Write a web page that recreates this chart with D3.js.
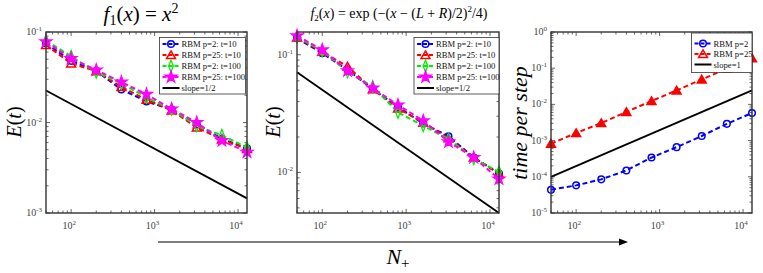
<!DOCTYPE html>
<html>
<head>
<meta charset="utf-8">
<script src="https://cdn.jsdelivr.net/npm/d3@7"></script>
<style>
  body { margin: 0; background: #fff; }
  svg { display: block; }
</style>
</head>
<body>
<div id="graph"></div>
<script>
// data
var N = [50, 100, 200, 400, 800, 1600, 3200, 6400, 12800];

// f1(x) = x^2
var f1_p2_t10   = [0.075, 0.048, 0.037, 0.0232, 0.0171, 0.0139, 0.0095, 0.0066, 0.0052];
var f1_p25_t10  = [0.072, 0.045, 0.037, 0.0247, 0.0179, 0.0136, 0.0088, 0.0065, 0.0051];
var f1_p2_t100  = [0.080, 0.054, 0.036, 0.027, 0.019, 0.0140, 0.0092, 0.0072, 0.0053];
var f1_p25_t100 = [0.078, 0.051, 0.038, 0.028, 0.0205, 0.0141, 0.0100, 0.0063, 0.0047];
var f1_slope    = [0.0226, 0.00145];

// f2(x) = exp(...)
var f2_p2_t10   = [0.138, 0.103, 0.0745, 0.051, 0.036, 0.026, 0.0203, 0.0134, 0.0098];
var f2_p25_t10  = [0.140, 0.106, 0.0796, 0.051, 0.035, 0.0265, 0.0195, 0.0134, 0.0097];
var f2_p2_t100  = [0.142, 0.108, 0.0717, 0.0535, 0.0324, 0.0249, 0.0192, 0.0131, 0.0101];
var f2_p25_t100 = [0.145, 0.110, 0.073, 0.052, 0.0374, 0.0275, 0.0182, 0.0134, 0.0088];
var f2_slope    = [0.0709, 0.00452];

// time per step
var time_p2   = [4.4e-5, 5.8e-5, 8.5e-5, 1.5e-4, 3.4e-4, 6.6e-4, 1.34e-3, 2.9e-3, 5.8e-3];
var time_p25  = [8.2e-4, 1.62e-3, 3.06e-3, 6.2e-3, 0.0124, 0.0244, 0.049, 0.097, 0.19];
var time_slope = [1e-4, 0.0245];

var xTicks = [1e2, 1e3, 1e4];
var labels4 = ['RBM p=2: t=10', 'RBM p=25: t=10', 'RBM p=2: t=100', 'RBM p=25: t=100', 'slope=1/2'];
var labels3 = ['RBM p=2', 'RBM p=25', 'slope=1'];

var blue = '#0000ff', red = '#ff0000', green = '#00ee00', magenta = '#ff00ff';

var width = 763, height = 273;
var svg = d3.select('#graph')
    .append('svg')
        .attr('width', width)
        .attr('height', height)
        .attr('font-family', "'Liberation Serif', 'Times New Roman', serif");

function marker(g, type, x, y, color, filled) {
    var sym = { circle: d3.symbolCircle, tri: d3.symbolTriangle, dia: d3.symbolDiamond, star: d3.symbolStar }[type];
    var size = { circle: 34, tri: 34, dia: 30, star: 38 }[type];
    var dy = type == 'tri' ? 1 : 0;
    g.append('path')
        .attr('d', d3.symbol().type(sym).size(size)())
        .attr('transform', 'translate(' + x + ',' + (y + dy) + ')' + (type == 'dia' ? ' scale(0.8,1.15)' : ''))
        .attr('fill', filled ? color : 'none')
        .attr('stroke', color)
        .attr('stroke-width', 1.5);
}

function panel(opt) {
    var x = d3.scaleLog().domain([50, 12800]).range([opt.left, opt.right]);
    var y = d3.scaleLog().domain(opt.ydom).range([opt.bottom, opt.top]);
    var g = svg.append('g');

    // minor + major ticks (inside, all four sides)
    var xMinor = [];
    for (var d = 10; d <= 10000; d *= 10)
        for (var k = 1; k < 10; k++) {
            var v = d * k;
            if (v >= 50 && v <= 12800) xMinor.push(v);
        }
    var lo = Math.floor(Math.log10(opt.ydom[0])), hi = Math.ceil(Math.log10(opt.ydom[1]));
    var yMinor = [];
    for (var e = lo; e < hi; e++)
        for (var k = 1; k < 10; k++) yMinor.push(Math.pow(10, e) * k);
    yMinor.push(Math.pow(10, hi));
    var tk = g.append('g').attr('stroke', '#444').attr('stroke-width', 0.8);
    xMinor.forEach(function(v) {
        var len = Math.abs(Math.log10(v) % 1) < 1e-9 ? 4 : 2.5;
        tk.append('line').attr('x1', x(v)).attr('x2', x(v)).attr('y1', opt.bottom).attr('y2', opt.bottom - len);
        tk.append('line').attr('x1', x(v)).attr('x2', x(v)).attr('y1', opt.top).attr('y2', opt.top + len);
    });
    yMinor.forEach(function(v) {
        if (v < opt.ydom[0] * 0.999 || v > opt.ydom[1] * 1.001) return;
        var len = Math.abs(Math.log10(v) - Math.round(Math.log10(v))) < 1e-9 ? 4 : 2.5;
        tk.append('line').attr('y1', y(v)).attr('y2', y(v)).attr('x1', opt.left).attr('x2', opt.left + len);
        tk.append('line').attr('y1', y(v)).attr('y2', y(v)).attr('x1', opt.right).attr('x2', opt.right - len);
    });

    // tick labels
    xTicks.forEach(function(v) {
        var t = g.append('text')
            .attr('x', x(v) - 2).attr('y', opt.bottom + 16)
            .attr('text-anchor', 'middle').attr('font-size', 10).attr('fill', '#444');
        t.append('tspan').text('10');
        t.append('tspan').attr('dy', -4).attr('font-size', 7).text(Math.round(Math.log10(v)));
    });
    opt.yTicks.forEach(function(v) {
        var t = g.append('text')
            .attr('x', opt.left - 4).attr('y', y(v) + 3)
            .attr('text-anchor', 'end').attr('font-size', 10).attr('fill', '#444');
        t.append('tspan').text('10');
        t.append('tspan').attr('dy', -4).attr('font-size', 7)
            .text(Math.round(Math.log10(v)));
    });

    // slope line
    g.append('line')
        .attr('x1', x(N[0])).attr('y1', y(opt.slope[0]))
        .attr('x2', x(N[N.length - 1])).attr('y2', y(opt.slope[1]))
        .attr('stroke', '#000').attr('stroke-width', 1.8);

    // series
    var line = d3.line().x(function(d) { return x(d[0]); }).y(function(d) { return y(d[1]); });
    opt.series.forEach(function(s) {
        var pts = N.map(function(n, i) { return [n, s.values[i]]; });
        g.append('path')
            .attr('d', line(pts))
            .attr('fill', 'none').attr('stroke', s.color)
            .attr('stroke-width', 2).attr('stroke-dasharray', '5,3');
        pts.forEach(function(p) { marker(g, s.type, x(p[0]), y(p[1]), s.color, s.filled); });
    });

    // frame
    g.append('rect')
        .attr('x', opt.left).attr('y', opt.top)
        .attr('width', opt.right - opt.left).attr('height', opt.bottom - opt.top)
        .attr('fill', 'none').attr('stroke', '#333').attr('stroke-width', 1.4);

    // legend
    var lg = g.append('g');
    lg.append('rect')
        .attr('x', opt.legend.x).attr('y', opt.legend.y)
        .attr('width', opt.legend.w).attr('height', opt.legend.h)
        .attr('fill', '#fff').attr('stroke', '#333').attr('stroke-width', 0.8);
    var entries = opt.series.concat([{ color: '#000', type: null }]);
    entries.forEach(function(s, i) {
        var yy = opt.legend.y + opt.legend.pad + i * opt.legend.step;
        var x0 = opt.legend.x + 3;
        lg.append('line')
            .attr('x1', x0).attr('x2', x0 + 17).attr('y1', yy).attr('y2', yy)
            .attr('stroke', s.color).attr('stroke-width', 2)
            .attr('stroke-dasharray', s.type ? '4,2' : null);
        if (s.type) marker(lg, s.type, x0 + 8.5, yy, s.color, s.type == 'star');
        lg.append('text')
            .attr('x', x0 + 19).attr('y', yy + 3)
            .attr('font-size', 8.6).attr('fill', '#111')
            .text(opt.legend.labels[i]);
    });
    return g;
}

var series4 = function(a, b, c, d) {
    return [
        { values: a, color: blue, type: 'circle' },
        { values: b, color: red, type: 'tri' },
        { values: c, color: green, type: 'dia' },
        { values: d, color: magenta, type: 'star', filled: true }
    ];
};

panel({
    left: 46, right: 247, top: 32, bottom: 213,
    ydom: [1e-3, 1e-1], yTicks: [1e-3, 1e-2, 1e-1],
    slope: f1_slope,
    series: series4(f1_p2_t10, f1_p25_t10, f1_p2_t100, f1_p25_t100),
    legend: { x: 159.5, y: 37.5, w: 86, h: 56.5, pad: 6.5, step: 11, labels: labels4 }
});

panel({
    left: 297, right: 499, top: 32, bottom: 213,
    ydom: [0.00452, 0.156], yTicks: [1e-2, 1e-1],
    slope: f2_slope,
    series: series4(f2_p2_t10, f2_p25_t10, f2_p2_t100, f2_p25_t100),
    legend: { x: 414, y: 37.5, w: 85, h: 56.5, pad: 6.5, step: 11, labels: labels4 }
});

panel({
    left: 551, right: 752, top: 32, bottom: 213,
    ydom: [1e-5, 1], yTicks: [1e-5, 1e-4, 1e-3, 1e-2, 1e-1, 1],
    slope: time_slope,
    series: [
        { values: time_p2, color: blue, type: 'circle' },
        { values: time_p25, color: red, type: 'tri', filled: true }
    ],
    legend: { x: 691.5, y: 33, w: 60.5, h: 39.5, pad: 10.5, step: 10.5, labels: labels3 }
});

// titles
var t1 = svg.append('text').attr('x', 141).attr('y', 21).attr('text-anchor', 'middle').attr('font-size', 21);
t1.append('tspan').attr('font-style', 'italic').text('f');
t1.append('tspan').attr('font-size', 14).attr('dy', 4).text('1');
t1.append('tspan').attr('dy', -4).text('(');
t1.append('tspan').attr('font-style', 'italic').text('x');
t1.append('tspan').text(') = ');
t1.append('tspan').attr('font-style', 'italic').text('x');
t1.append('tspan').attr('font-size', 14).attr('dy', -8).text('2');

var t2 = svg.append('text').attr('x', 399).attr('y', 18).attr('text-anchor', 'middle').attr('font-size', 14);
t2.append('tspan').attr('font-style', 'italic').text('f');
t2.append('tspan').attr('font-size', 9).attr('dy', 3).text('2');
t2.append('tspan').attr('dy', -3).text('(');
t2.append('tspan').attr('font-style', 'italic').text('x');
t2.append('tspan').text(') = exp (\u2212(');
t2.append('tspan').attr('font-style', 'italic').text('x');
t2.append('tspan').text(' \u2212 (');
t2.append('tspan').attr('font-style', 'italic').text('L');
t2.append('tspan').text(' + ');
t2.append('tspan').attr('font-style', 'italic').text('R');
t2.append('tspan').text(')/2)');
t2.append('tspan').attr('font-size', 9).attr('dy', -6).text('2');
t2.append('tspan').attr('dy', 6).text('/4)');

// y labels
[21, 280].forEach(function(px) {
    var t = svg.append('text')
        .attr('transform', 'translate(' + px + ',122) rotate(-90)')
        .attr('text-anchor', 'middle').attr('font-size', 20);
    t.append('tspan').attr('font-style', 'italic').text('E');
    t.append('tspan').text('(');
    t.append('tspan').attr('font-style', 'italic').text('t');
    t.append('tspan').text(')');
});
svg.append('text')
    .attr('transform', 'translate(527,123) rotate(-90)')
    .attr('text-anchor', 'middle').attr('font-size', 22)
    .attr('font-style', 'italic')
    .text('time per step');

// N+ arrow
svg.append('line')
    .attr('x1', 158).attr('x2', 621).attr('y1', 242).attr('y2', 242)
    .attr('stroke', '#000').attr('stroke-width', 1.2);
svg.append('path')
    .attr('d', 'M628,242 L619,238.5 L619,245.5 Z')
    .attr('fill', '#000');
var nl = svg.append('text').attr('x', 398).attr('y', 264).attr('text-anchor', 'middle').attr('font-size', 22);
nl.append('tspan').attr('font-style', 'italic').text('N');
nl.append('tspan').attr('font-size', 15).attr('dy', 4).text('+');
</script>
</body>
</html>
